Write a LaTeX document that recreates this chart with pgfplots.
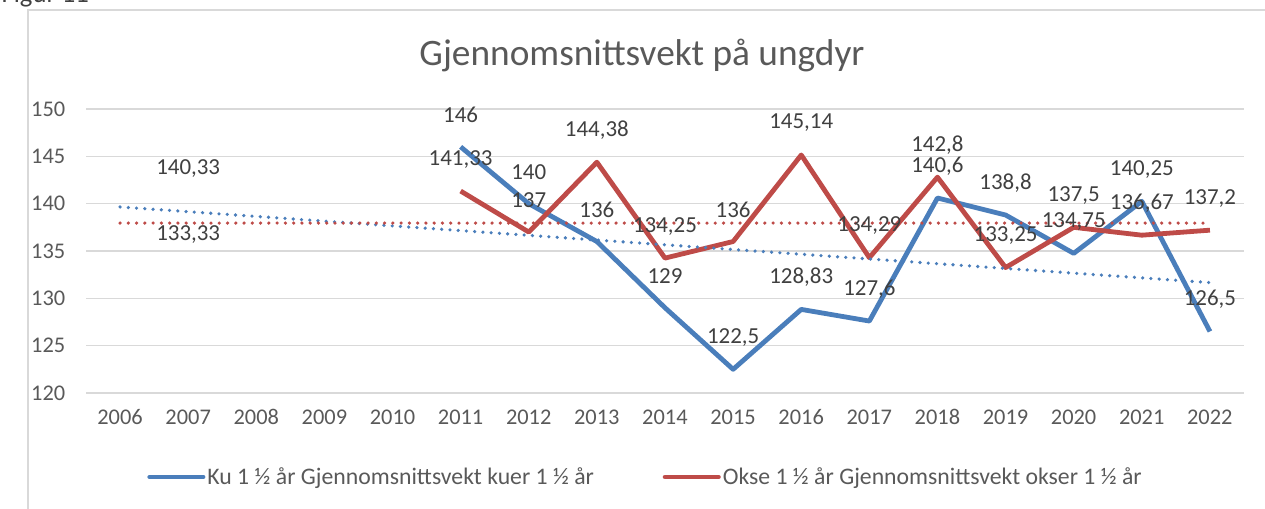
\documentclass[border=0pt]{standalone}
\usepackage{fontspec}
\setmainfont{Carlito}
\usepackage{pgfplots}
\usepackage{pgfplotstable}
\pgfplotsset{compat=1.18}
\definecolor{kublue}{HTML}{4A7EBB}
\definecolor{okred}{HTML}{BE4B48}
\definecolor{gridgray}{HTML}{D9D9D9}
\definecolor{ticktext}{HTML}{595959}
\definecolor{labeltext}{HTML}{404040}

\pgfplotstableread{
year val
2011 146
2012 140
2013 136
2014 129
2015 122.5
2016 128.83
2017 127.6
2018 140.6
2019 138.8
2020 134.75
2021 140.25
2022 126.5
}\kudata
\pgfplotstableread{
year val
2011 141.33
2012 137
2013 144.38
2014 134.25
2015 136
2016 145.14
2017 134.29
2018 142.8
2019 133.25
2020 137.5
2021 136.67
2022 137.2
}\oksedata
\pgfplotstableread{
year val
2007 140.33
}\kusingle
\pgfplotstableread{
year val
2007 133.33
}\oksesingle

\begin{document}
\begin{tikzpicture}
\useasboundingbox (0,0) rectangle (948.75pt,381.75pt);
\draw[gridgray, line width=1pt] (21pt,-5pt) -- (21pt,374.25pt) -- (960pt,374.25pt);
\node[anchor=base west, inner sep=0pt, font=\fontsize{20}{24}\selectfont, text=labeltext] at (1pt,379.5pt) {Figur 11};
\node[anchor=base, inner sep=0pt, font=\fontsize{28}{32}\selectfont, text=ticktext] at (481.5pt,332.25pt) {Gjennomsnittsvekt på ungdyr};
\begin{axis}[
  at={(64.5pt,87pt)}, anchor=south west,
  scale only axis, width=868.5pt, height=213pt,
  xmin=2005.5, xmax=2022.5, ymin=120, ymax=150,
  xtick={2006,2007,...,2022}, ytick={120,125,...,150},
  /pgf/number format/.cd, use comma, 1000 sep={}, fixed, precision=2, assume math mode=true,
  /pgfplots/.cd,
  axis line style={draw=none},
  major tick length=0pt,
  ymajorgrids, major grid style={gridgray, line width=1.1pt},
  ticklabel style={font=\fontsize{16.8}{20}\selectfont, text=ticktext},
  xticklabel style={anchor=base, yshift=-24pt},
  yticklabel style={xshift=-12pt},
  legend style={at={(0.4832,-0.2958)}, anchor=center, draw=none, fill=none,
    font=\fontsize{17.8}{21}\selectfont, text=ticktext,
    legend columns=2, /tikz/every even column/.append style={column sep=50pt},
    nodes={inner sep=1.5pt}},
  legend image code/.code={\draw[line width=3.6pt, line cap=round] (0pt,0pt) -- (40pt,0pt);},
  nodes near coords style={font=\fontsize{17.2}{20}\selectfont, text=labeltext, anchor=center, yshift=24pt},
]
\addplot[kublue, line width=3.6pt, line join=round] table[x=year, y=val] {\kudata};
\addlegendentry{Ku 1 ½ år Gjennomsnittsvekt kuer 1 ½ år}
\addplot[okred, line width=3.6pt, line join=round] table[x=year, y=val] {\oksedata};
\addlegendentry{Okse 1 ½ år Gjennomsnittsvekt okser 1 ½ år}
\addplot[forget plot, kublue, line width=2.7pt, line cap=round, dash pattern=on 0pt off 6.2pt] coordinates {(2006,139.65) (2022,131.66)};
\addplot[forget plot, okred, line width=2.7pt, line cap=round, dash pattern=on 0pt off 6.2pt] coordinates {(2006,137.95) (2022,137.95)};
\addplot[forget plot, draw=none, nodes near coords] table[x=year, y=val] {\kudata};
\addplot[forget plot, draw=none, nodes near coords] table[x=year, y=val] {\oksedata};
\addplot[forget plot, draw=none, nodes near coords] table[x=year, y=val] {\kusingle};
\addplot[forget plot, draw=none, nodes near coords] table[x=year, y=val] {\oksesingle};
\end{axis}
\end{tikzpicture}
\end{document}
